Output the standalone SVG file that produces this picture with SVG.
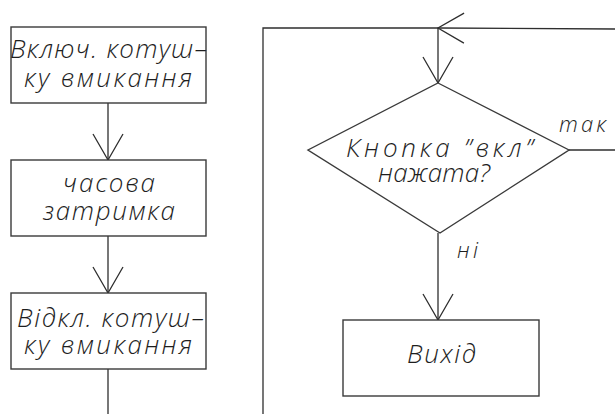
<svg xmlns="http://www.w3.org/2000/svg" width="615" height="414" viewBox="0 0 615 414">
  <style>
    .box { fill: #fff; stroke: #3a3a3a; stroke-width: 1.4; }
    .ln { fill: none; stroke: #2e2e2e; stroke-width: 1.3; }
    .t { font-family: "Open Sans", "Liberation Sans", sans-serif; font-style: italic; font-weight: 300; font-size: 26px; fill: #1e1e1e; }
    .s { font-size: 22px; }
  </style>
  <defs>
    <marker id="open" markerUnits="userSpaceOnUse" viewBox="-30 -20 40 40" markerWidth="40" markerHeight="40" refX="0" refY="0" orient="auto" overflow="visible">
      <path d="M-26,-15 L0,0 L-26,15" fill="none" stroke="#2e2e2e" stroke-width="1.3"/>
    </marker>
  </defs>
  <rect width="615" height="414" fill="#fff"/>

  <!-- flow lines -->
  <g id="connectors">
    <path class="ln" d="M108,103 L108,160" marker-end="url(#open)"/>
    <path class="ln" d="M108,236 L108,293" marker-end="url(#open)"/>
    <path class="ln" d="M108,369 L108,414"/>
    <path class="ln" d="M615,29 L438,28" marker-end="url(#open)"/>
    <path class="ln" d="M438,28 L263,28 L263,414"/>
    <path class="ln" d="M438,28 L438,83" marker-end="url(#open)"/>
    <path class="ln" d="M569,150 L615,150"/>
    <path class="ln" d="M438,233 L438,320" marker-end="url(#open)"/>
    <text class="t s" x="559" y="132" textLength="47" lengthAdjust="spacing">так</text>
    <text class="t s" x="457" y="258" textLength="21" lengthAdjust="spacing">ні</text>
  </g>

  <g id="coil-on">
    <rect class="box" x="11" y="27" width="195" height="76"/>
    <text class="t" x="10" y="58" textLength="197" lengthAdjust="spacing">Включ. котуш–</text>
    <text class="t" x="24" y="87" textLength="168" lengthAdjust="spacing">ку  вмикання</text>
  </g>

  <g id="delay">
    <rect class="box" x="11" y="160" width="195" height="76"/>
    <text class="t" x="63" y="192" textLength="92" lengthAdjust="spacing">часова</text>
    <text class="t" x="43" y="220" textLength="132" lengthAdjust="spacing">затримка</text>
  </g>

  <g id="coil-off">
    <rect class="box" x="11" y="293" width="195" height="76"/>
    <text class="t" x="17" y="327" textLength="187" lengthAdjust="spacing">Відкл. котуш–</text>
    <text class="t" x="24" y="354" textLength="168" lengthAdjust="spacing">ку  вмикання</text>
  </g>

  <g id="button-check">
    <path class="box" d="M438,83 L569,150 L440,233 L308,150 Z"/>
    <text class="t" x="346" y="157" textLength="187" lengthAdjust="spacing">Кнопка  ”вкл”</text>
    <text class="t" x="378" y="182" textLength="112" lengthAdjust="spacing">нажата?</text>
  </g>

  <g id="exit">
    <rect class="box" x="343" y="320" width="196" height="76"/>
    <text class="t" x="407" y="363" textLength="69" lengthAdjust="spacing">Вихід</text>
  </g>
</svg>
